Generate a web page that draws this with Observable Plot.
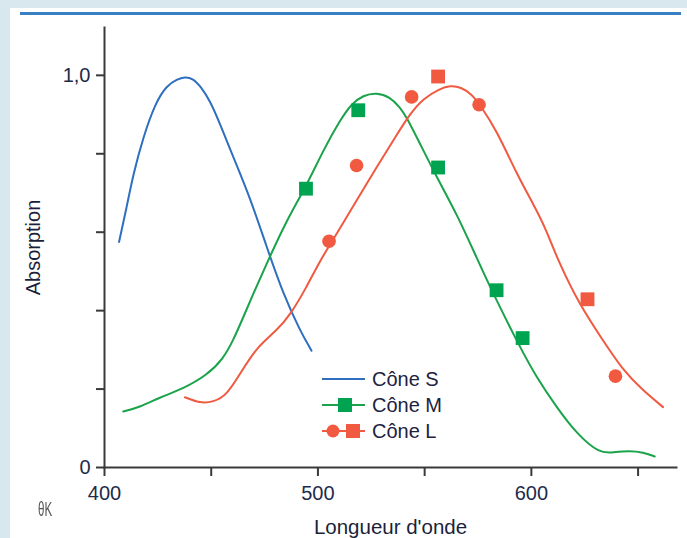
<!DOCTYPE html>
<html>
<head>
<meta charset="utf-8">
<script src="https://cdn.jsdelivr.net/npm/d3@7"></script>
<script src="https://cdn.jsdelivr.net/npm/@observablehq/plot@0.6"></script>
<style>
  html, body { margin: 0; padding: 0; }
  body { width: 687px; height: 538px; position: relative; overflow: hidden; background: #d9e8ee; font-family: "Liberation Sans", Arial, sans-serif; }
  #panel { position: absolute; left: 10px; top: 8px; right: 0; bottom: 0; background: #ffffff; }
  #topline { position: absolute; left: 20px; top: 12px; width: 661px; height: 3px; background: #3a80c5; }
  #chart { position: absolute; left: 0; top: 0; }
  #legend { position: absolute; left: 320px; top: 366px; font-size: 20px; color: #1d2240; }
  .row { height: 26px; display: flex; align-items: center; }
  .row svg { margin-right: 4px; }
  #glitch { position: absolute; left: 38px; top: 497px; font-size: 21px; color: #555; transform: scaleX(0.55); transform-origin: left; filter: blur(0.6px); }
</style>
</head>
<body>
<div id="panel"></div>
<div id="topline"></div>
<div id="chart"></div>
<div id="legend"></div>
<div id="glitch">θK</div>
<script>
// Wavelength (nm) and absorption
const sWavelength = [406.8, 410.4, 413.5, 418.2, 423.7, 429.1, 434.0, 437.7, 441.5, 445.0, 449.4, 454.1, 460.3, 468.1, 476.0, 483.7, 491.6, 497.0];
const sAbsorption = [0.575, 0.664, 0.749, 0.843, 0.928, 0.974, 0.990, 0.996, 0.992, 0.972, 0.936, 0.877, 0.792, 0.690, 0.562, 0.443, 0.349, 0.298];

const mWavelength = [408.8, 416.6, 426.0, 436.9, 447.9, 455.6, 460.3, 465.0, 469.7, 476.0, 485.3, 494.7, 502.5, 510.3, 515.8, 521.2, 527.5, 533.7, 538.4, 541.5, 547.8, 555.6, 565.0, 574.3, 580.6, 594.6, 602.4, 611.8, 621.2, 632.1, 638.3, 646.1, 652.4, 657.8];
const mAbsorption = [0.143, 0.154, 0.179, 0.201, 0.235, 0.277, 0.324, 0.383, 0.443, 0.520, 0.630, 0.719, 0.809, 0.885, 0.928, 0.949, 0.956, 0.945, 0.919, 0.894, 0.826, 0.741, 0.647, 0.536, 0.460, 0.307, 0.230, 0.154, 0.086, 0.035, 0.039, 0.043, 0.039, 0.028];

const lWavelength = [437.7, 444.7, 451.0, 457.2, 463.5, 471.3, 480.7, 486.9, 494.7, 501.0, 508.8, 518.1, 527.5, 535.3, 543.1, 549.3, 557.1, 562.0, 567.0, 572.0, 575.9, 583.7, 593.1, 600.8, 607.1, 611.8, 622.7, 633.6, 643.0, 652.4, 661.7];
const lAbsorption = [0.179, 0.164, 0.167, 0.184, 0.239, 0.307, 0.349, 0.388, 0.460, 0.528, 0.596, 0.681, 0.766, 0.834, 0.902, 0.941, 0.966, 0.974, 0.970, 0.952, 0.925, 0.860, 0.749, 0.673, 0.605, 0.536, 0.413, 0.324, 0.247, 0.196, 0.154];

// Measured points
const mSquareWl = [494.4, 518.9, 556.3, 583.7, 595.9];
const mSquareAbs = [0.711, 0.911, 0.765, 0.452, 0.330];
const lSquareWl = [556.3, 626.3];
const lSquareAbs = [0.997, 0.429];
const lCircleWl = [505.2, 518.1, 543.9, 575.5, 639.4];
const lCircleAbs = [0.577, 0.770, 0.945, 0.925, 0.233];

// Ticks
const xTickValues = [400, 450, 500, 550, 600, 650];
const xTickLabels = ["400", "", "500", "", "600", ""];
const yTickValues = [0, 0.2, 0.4, 0.6, 0.8, 1.0];
const yTickLabels = ["0", "", "", "", "", "1,0"];

const seriesNames = ["Cône S", "Cône M", "Cône L"];
const colors = { S: "#2f6fbf", M: "#1aa34a", L: "#ef5a41" };
const markerColors = { M: "#00a34f", L: "#f15a40" };

const zip = (xs, ys) => xs.map((x, i) => ({ wl: x, abs: ys[i] }));
const sData = zip(sWavelength, sAbsorption);
const mData = zip(mWavelength, mAbsorption);
const lData = zip(lWavelength, lAbsorption);
const mSq = zip(mSquareWl, mSquareAbs);
const lSq = zip(lSquareWl, lSquareAbs);
const lCi = zip(lCircleWl, lCircleAbs);

const axisColor = "#3a3a3a";
const labelColor = "#1e2a4a";

const chart = Plot.plot({
  width: 687,
  height: 538,
  marginLeft: 104,
  marginRight: 11,
  marginTop: 27,
  marginBottom: 71,
  x: { domain: [400, 668] },
  y: { domain: [0, 1.122] },
  style: { background: "transparent", fontFamily: "'Liberation Sans', Arial, sans-serif", fontSize: "19px", overflow: "visible" },
  marks: [
    Plot.frame({ anchor: "left", stroke: axisColor, strokeWidth: 2 }),
    Plot.frame({ anchor: "bottom", stroke: axisColor, strokeWidth: 2 }),
    Plot.axisY({ ticks: yTickValues, tickSize: 8, tickPadding: 6, strokeWidth: 2, stroke: axisColor, fill: labelColor, fontSize: 20,
      tickFormat: d => yTickLabels[yTickValues.indexOf(d)], label: null }),
    Plot.axisX({ ticks: xTickValues, tickSize: 9, tickPadding: 9, strokeWidth: 2, stroke: axisColor, fill: labelColor, fontSize: 20,
      tickFormat: d => xTickLabels[xTickValues.indexOf(d)], label: null }),
    Plot.text(["Longueur d'onde"], { frameAnchor: "bottom", dy: 66, fill: "#1b1f3a", fontSize: 20.5 }),
    Plot.text(["Absorption"], { frameAnchor: "left", dx: -71, rotate: -90, textAnchor: "middle", fill: "#1b1f3a", fontSize: 20 }),
    Plot.line(sData, { x: "wl", y: "abs", stroke: colors.S, strokeWidth: 2, curve: "basis" }),
    Plot.line(mData, { x: "wl", y: "abs", stroke: colors.M, strokeWidth: 2, curve: "basis" }),
    Plot.line(lData, { x: "wl", y: "abs", stroke: colors.L, strokeWidth: 2, curve: "basis" }),
    Plot.dot(mSq, { x: "wl", y: "abs", symbol: "square", r: 7.8, fill: markerColors.M }),
    Plot.dot(lSq, { x: "wl", y: "abs", symbol: "square", r: 7.8, fill: markerColors.L }),
    Plot.dot(lCi, { x: "wl", y: "abs", r: 6.8, fill: markerColors.L })
  ]
});
document.getElementById("chart").appendChild(chart);

// Legend
const legend = document.getElementById("legend");
const swatches = [
  `<svg width="48" height="20"><line x1="2" y1="10" x2="45" y2="10" stroke="${colors.S}" stroke-width="2"/></svg>`,
  `<svg width="48" height="20"><line x1="2" y1="10" x2="45" y2="10" stroke="${colors.M}" stroke-width="2"/><rect x="18" y="3" width="14" height="14" fill="${markerColors.M}"/></svg>`,
  `<svg width="48" height="20"><line x1="2" y1="10" x2="45" y2="10" stroke="${colors.L}" stroke-width="2"/><circle cx="13" cy="10" r="6.5" fill="${markerColors.L}"/><rect x="26" y="3" width="14" height="14" fill="${markerColors.L}"/></svg>`
];
seriesNames.forEach((name, i) => {
  const row = document.createElement("div");
  row.className = "row";
  row.innerHTML = swatches[i] + `<span>${name}</span>`;
  legend.appendChild(row);
});
</script>
</body>
</html>
